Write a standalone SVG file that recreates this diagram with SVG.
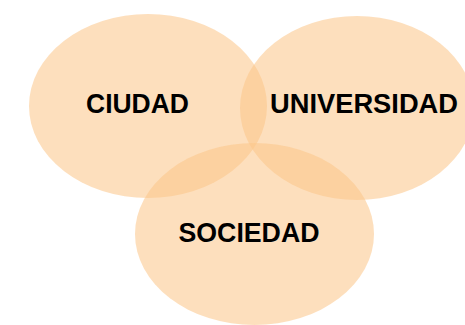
<svg xmlns="http://www.w3.org/2000/svg" width="465" height="325" viewBox="0 0 465 325">
<style>
.c{fill:#FBC689;fill-opacity:0.56;stroke:none}
.t{font-family:"Liberation Sans",Arial,sans-serif;font-weight:bold;font-size:27.5px;fill:#000;text-anchor:middle}
</style>
<rect width="465" height="325" fill="#fff"/>
<g id="ciudad"><ellipse class="c" cx="148" cy="106" rx="119" ry="92"/><text class="t" x="137.5" y="112.5" textLength="103" lengthAdjust="spacingAndGlyphs">CIUDAD</text></g>
<g id="universidad"><ellipse class="c" cx="357" cy="108" rx="117" ry="92"/><text class="t" x="364" y="112.5" textLength="188" lengthAdjust="spacingAndGlyphs">UNIVERSIDAD</text></g>
<g id="sociedad"><ellipse class="c" cx="254.5" cy="234" rx="119.5" ry="91"/><text class="t" x="249" y="242" textLength="141" lengthAdjust="spacingAndGlyphs">SOCIEDAD</text></g>
<g id="connectors"/>
</svg>
